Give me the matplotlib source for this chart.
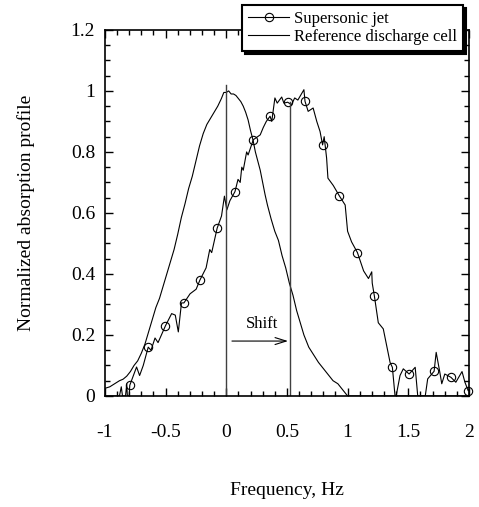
import matplotlib
matplotlib.use("Agg")
import matplotlib.pyplot as plt
from matplotlib.lines import Line2D
from matplotlib.ticker import MultipleLocator, FuncFormatter

### general settings
fnt = "Liberation Serif"
lnwdth = 0.8
plt.rcParams['font.family'] = fnt
plt.rcParams['mathtext.fontset'] = 'stix'

### data
# reference discharge cell
ref_x = [-1.00, -0.96, -0.92, -0.88, -0.85, -0.82, -0.79, -0.76, -0.73, -0.70,
         -0.67, -0.64, -0.61, -0.58, -0.55, -0.52, -0.49, -0.46, -0.43, -0.40,
         -0.37, -0.34, -0.31, -0.28, -0.25, -0.22, -0.19, -0.16, -0.13, -0.10,
         -0.07, -0.04, -0.02, 0.00, 0.02, 0.04, 0.06, 0.08, 0.10, 0.12,
         0.14, 0.16, 0.18, 0.20, 0.22, 0.24, 0.26, 0.28, 0.30, 0.32,
         0.34, 0.37, 0.40, 0.43, 0.46, 0.49, 0.52, 0.55, 0.58, 0.61,
         0.64, 0.68, 0.72, 0.76, 0.80, 0.84, 0.88, 0.92, 0.96, 1.00, 2.00]
ref_y = [0.025, 0.03, 0.04, 0.05, 0.055, 0.065, 0.08, 0.10, 0.115, 0.14,
         0.17, 0.21, 0.25, 0.29, 0.32, 0.36, 0.40, 0.44, 0.48, 0.53,
         0.585, 0.63, 0.68, 0.72, 0.77, 0.82, 0.86, 0.89, 0.91, 0.93,
         0.95, 0.975, 0.995, 0.995, 1.00, 0.99, 0.99, 0.985, 0.975, 0.965,
         0.95, 0.93, 0.905, 0.87, 0.84, 0.80, 0.77, 0.74, 0.70, 0.66,
         0.625, 0.58, 0.54, 0.51, 0.46, 0.42, 0.37, 0.33, 0.28, 0.24,
         0.20, 0.16, 0.135, 0.11, 0.09, 0.07, 0.05, 0.04, 0.02, 0.0, 0.0]

# supersonic jet
jet_x = [-1.00, -0.88, -0.865, -0.855, -0.83, -0.82, -0.815, -0.80, -0.795, -0.739,
         -0.714, -0.684, -0.643, -0.62, -0.587, -0.562, -0.501, -0.45, -0.42, -0.395,
         -0.369, -0.349, -0.298, -0.248, -0.217, -0.166, -0.136, -0.12, -0.075, -0.039,
         -0.015, 0.005, 0.03, 0.072, 0.097, 0.115, 0.128, 0.14, 0.168, 0.18,
         0.223, 0.28, 0.305, 0.33, 0.361, 0.375, 0.401, 0.42, 0.457, 0.475,
         0.506, 0.538, 0.564, 0.59, 0.640, 0.649, 0.675, 0.716, 0.746, 0.773,
         0.794, 0.807, 0.827, 0.838, 0.882, 0.932, 0.980, 1.000, 1.033, 1.081,
         1.132, 1.172, 1.199, 1.203, 1.221, 1.253, 1.294, 1.350, 1.369, 1.391,
         1.400, 1.432, 1.459, 1.507, 1.557, 1.578, 1.640, 1.660, 1.713, 1.730,
         1.760, 1.776, 1.801, 1.852, 1.892, 1.943, 1.967, 1.994, 2.000]
jet_y = [0.0, 0.0, 0.03, 0.0, 0.0, 0.04, 0.0, 0.0, 0.035, 0.095,
         0.067, 0.10, 0.16, 0.15, 0.19, 0.175, 0.23, 0.27, 0.265, 0.21,
         0.305, 0.305, 0.335, 0.35, 0.38, 0.42, 0.48, 0.47, 0.55, 0.59,
         0.655, 0.61, 0.64, 0.67, 0.71, 0.70, 0.75, 0.74, 0.80, 0.79,
         0.84, 0.856, 0.88, 0.90, 0.917, 0.90, 0.977, 0.96, 0.98, 0.96,
         0.963, 0.955, 0.977, 0.97, 1.004, 0.966, 0.933, 0.944, 0.90, 0.867,
         0.823, 0.85, 0.78, 0.714, 0.69, 0.656, 0.626, 0.54, 0.505, 0.47,
         0.41, 0.385, 0.407, 0.37, 0.327, 0.24, 0.22, 0.11, 0.094, 0.0,
         0.0, 0.067, 0.089, 0.072, 0.094, 0.0, 0.0, 0.056, 0.081, 0.143,
         0.078, 0.04, 0.072, 0.061, 0.045, 0.08, 0.045, 0.017, 0.02]
jet_marks = [-0.795, -0.643, -0.501, -0.349, -0.217, -0.075, 0.072, 0.223, 0.361, 0.506,
             0.649, 0.794, 0.932, 1.081, 1.221, 1.369, 1.507, 1.713, 1.852, 1.994]

# shift markers
line0 = [0.0, 1.02]
line1 = [0.525, 0.965]

fig = plt.figure(figsize=(4.79, 5.07), dpi=100)
ax1 = fig.add_axes([0.219, 0.219, 0.760, 0.722])

ax1.plot(ref_x, ref_y, color='black', lw=lnwdth)
ax1.plot(jet_x, jet_y, color='black', lw=lnwdth)
mk_y = [jet_y[jet_x.index(v)] for v in jet_marks]
ax1.plot(jet_marks, mk_y, ls='none', marker='o', markersize=6, mfc='none',
         mec='black', mew=0.8, clip_on=False)

ax1.plot([line0[0], line0[0]], [0, line0[1]], color='0.25', lw=1.0)
ax1.plot([line1[0], line1[0]], [0, line1[1]], color='0.25', lw=1.0)

ax1.annotate('', xy=(0.509, 0.18), xytext=(0.047, 0.18),
             arrowprops=dict(arrowstyle='->,head_length=0.8,head_width=0.25',
                             color='black', lw=0.8, shrinkA=0, shrinkB=0))
ax1.text(0.294, 0.235, 'Shift', ha='center', va='center', fontsize=12)

ax1.set_xlim(-1, 2)
ax1.set_ylim(0, 1.2)
ax1.xaxis.set_major_locator(MultipleLocator(0.5))
ax1.xaxis.set_minor_locator(MultipleLocator(0.1))
ax1.yaxis.set_major_locator(MultipleLocator(0.2))
ax1.yaxis.set_minor_locator(MultipleLocator(0.05))
fmt = FuncFormatter(lambda v, p: '%g' % round(v, 2))
ax1.xaxis.set_major_formatter(fmt)
ax1.yaxis.set_major_formatter(fmt)

ax1.tick_params(which='both', direction='in', top=True, right=True, width=1)
ax1.tick_params(which='major', length=6, labelsize=14)
ax1.tick_params(which='minor', length=3.5)
ax1.tick_params(axis='x', which='major', pad=20)
ax1.tick_params(axis='y', which='major', pad=7)
plt.setp(ax1.spines.values(), linewidth=1.2)

ax1.set_xlabel('Frequency, Hz', fontsize=14, labelpad=30)
ax1.set_ylabel('Normalized absorption profile', fontsize=14, labelpad=26)

# legend with proxy handles
h_jet = Line2D([], [], color='black', lw=lnwdth, marker='o', markersize=6,
               mfc='none', mec='black', mew=0.8)
h_ref = Line2D([], [], color='black', lw=lnwdth)
leg = fig.legend([h_jet, h_ref], ['Supersonic jet', 'Reference discharge cell'],
                 loc='upper left', bbox_to_anchor=(0.505, 0.99), fontsize=12,
                 numpoints=1, handlelength=2.5, handletextpad=0.3,
                 borderpad=0.35, labelspacing=0.12, borderaxespad=0,
                 fancybox=False, framealpha=1,
                 shadow={'color': 'black', 'alpha': 1})
leg.get_frame().set_edgecolor('black')
leg.get_frame().set_linewidth(1.5)

plt.savefig('out.png', dpi=100)
